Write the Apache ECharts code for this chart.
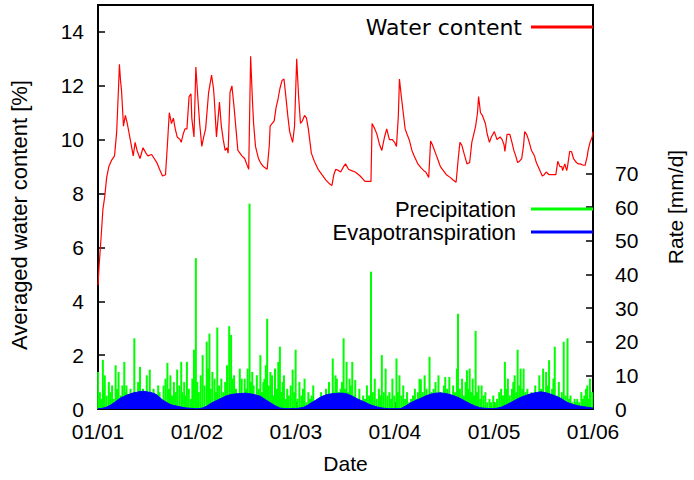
<!DOCTYPE html>
<html><head><meta charset="utf-8">
<script src="https://cdn.jsdelivr.net/npm/echarts@6/dist/echarts.min.js"></script>
<style>html,body{margin:0;padding:0;background:#fff}#c{width:694px;height:480px}</style>
</head><body><div id="c"></div>
<script>
// ---- data (day = days since 2001-01-01) ----
const startDate = '2001-01-01';
const endDate = '2006-01-01';
const xTickDates = ['2001-01-01','2002-01-01','2003-01-01','2004-01-01','2005-01-01','2006-01-01'];
const leftTicks = [0,2,4,6,8,10,12,14];
const rightTicks = [0,10,20,30,40,50,60,70];

const waterContent = [[0,4.6],[4,5.3],[11,6.3],[18,7.4],[25,7.9],[32,8.6],[40,9.0],[51,9.25],[61,9.4],[69,10.3],[76,12.0],[79,12.8],[83,12.2],[87,11.8],[94,10.5],[101,10.9],[108,10.6],[119,10.0],[130,9.4],[137,9.9],[144,9.6],[155,9.3],[166,9.7],[177,9.5],[184,9.4],[198,9.45],[217,9.15],[227,8.9],[238,8.65],[249,8.7],[256,9.8],[263,11.0],[271,10.6],[278,10.8],[285,10.4],[292,10.1],[303,10.0],[307,9.9],[314,10.2],[321,10.4],[328,10.4],[336,11.6],[343,11.7],[346,10.8],[354,10.1],[361,12.7],[368,11.6],[375,10.6],[383,9.75],[390,10.1],[397,10.4],[408,11.75],[419,12.4],[426,11.9],[429,11.5],[437,10.1],[444,10.9],[448,11.4],[455,10.5],[462,10.0],[469,9.6],[476,9.7],[480,9.5],[487,11.75],[494,12.0],[502,11.2],[509,10.4],[516,9.6],[531,9.4],[541,9.3],[552,9.0],[556,8.9],[563,13.1],[570,11.4],[574,10.6],[581,9.75],[592,9.3],[599,9.15],[610,9.0],[624,8.9],[632,9.8],[635,10.5],[642,10.6],[650,10.7],[657,11.2],[664,11.5],[671,11.9],[679,12.2],[686,12.25],[693,11.6],[700,10.9],[707,10.3],[715,10.0],[718,9.9],[725,10.5],[733,13.0],[740,11.6],[747,10.6],[754,10.7],[762,10.9],[769,10.8],[776,10.4],[787,9.5],[798,9.2],[812,8.9],[826,8.7],[841,8.5],[855,8.35],[863,8.3],[870,8.7],[877,8.9],[888,8.85],[895,8.8],[906,9.0],[913,9.1],[924,8.9],[935,8.85],[949,8.8],[967,8.65],[985,8.45],[1000,8.45],[1007,8.45],[1011,10.6],[1021,10.4],[1029,10.2],[1039,9.8],[1047,9.6],[1057,10.1],[1065,10.4],[1075,10.0],[1086,10.0],[1094,9.9],[1101,9.75],[1108,10.9],[1112,12.25],[1119,11.6],[1126,11.0],[1133,10.4],[1140,10.2],[1148,10.0],[1158,9.6],[1166,9.4],[1180,9.1],[1191,8.96],[1202,8.85],[1209,8.8],[1220,8.6],[1227,9.95],[1234,9.8],[1245,9.5],[1256,9.2],[1263,9.0],[1274,8.85],[1285,8.7],[1299,8.6],[1310,8.5],[1321,8.42],[1328,9.2],[1335,9.9],[1342,9.8],[1350,9.5],[1361,9.1],[1371,9.15],[1379,9.9],[1386,10.2],[1393,10.5],[1400,11.0],[1404,11.6],[1411,11.0],[1418,10.9],[1429,10.6],[1436,10.2],[1444,9.9],[1451,10.1],[1462,10.3],[1472,10.0],[1483,10.1],[1491,10.0],[1498,9.8],[1501,9.56],[1509,10.2],[1519,10.2],[1527,9.9],[1534,9.6],[1541,9.4],[1548,9.15],[1555,9.2],[1563,9.3],[1570,9.8],[1574,10.3],[1581,10.2],[1588,10.0],[1599,9.6],[1610,9.4],[1617,9.15],[1628,8.9],[1639,8.65],[1646,8.7],[1653,8.8],[1664,8.7],[1678,8.7],[1689,8.7],[1696,9.2],[1704,9.0],[1711,9.0],[1714,8.85],[1722,9.1],[1729,8.85],[1732,9.0],[1740,9.57],[1747,9.55],[1754,9.3],[1765,9.15],[1772,9.1],[1779,9.1],[1790,9.05],[1797,9.05],[1805,9.4],[1808,9.6],[1815,9.9],[1823,10.1],[1826,10.3]];

const evapotranspiration = [[0,0.1],[15,0.2],[30,0.5],[47,1.2],[60,1.9],[75,2.8],[83,3.3],[95,3.7],[108,4.2],[120,4.5],[130,4.8],[145,5.0],[155,5.2],[166,5.3],[180,5.1],[195,4.9],[207,4.6],[217,4.2],[228,3.4],[238,2.7],[250,2.1],[263,1.5],[276,1.1],[289,0.9],[305,0.6],[325,0.3],[345,0.2],[360,0.1],
[372,0.1],[385,0.3],[400,0.8],[419,1.8],[437,2.5],[455,3.2],[473,3.9],[491,4.3],[509,4.5],[527,4.6],[545,4.7],[563,4.5],[581,4.2],[599,3.8],[617,2.8],[635,1.9],[653,1.0],[671,0.3],[690,0.1],[707,0.1],[720,0.2],
[730,0.1],[745,0.3],[758,0.5],[775,1.2],[790,2.0],[805,2.7],[820,3.5],[841,4.2],[860,4.5],[875,4.6],[888,4.7],[900,4.7],[913,4.6],[925,4.3],[938,3.8],[952,3.2],[968,2.6],[985,2.0],[1000,1.4],[1010,1.1],[1021,0.8],[1040,0.4],[1057,0.2],[1075,0.1],
[1095,0.1],[1110,0.1],[1119,0.2],[1135,0.9],[1155,1.9],[1173,2.6],[1191,3.2],[1209,3.9],[1227,4.4],[1245,4.7],[1263,4.8],[1281,4.6],[1299,4.3],[1317,3.8],[1335,3.2],[1353,2.4],[1371,1.6],[1390,0.9],[1408,0.4],[1430,0.2],[1454,0.1],
[1470,0.2],[1490,0.6],[1508,1.3],[1527,2.1],[1545,2.9],[1563,3.6],[1581,4.1],[1599,4.6],[1617,4.9],[1635,5.1],[1653,4.8],[1671,4.4],[1689,3.8],[1707,3.2],[1720,2.5],[1732,1.9],[1750,1.4],[1768,1.0],[1790,0.7],[1815,0.4],[1826,0.3]];

const precipitation = [[0,11],[7,5],[12,3],[18,14.6],[22,6],[25,10],[32,4],[40,8],[46,5],[52,7],[58,3],[65,13],[70,6],[76,11],[84,4],[90,7],[97,14],[101,5],[105,7],[112,3],[120,6],[127,4],[134,21],[140,5],[148,8],[155,12.5],[160,4],[166,6],[173,3],[180,10],[186,5],[191,11.7],[198,4],[205,6],[211,2],[217,4],[222,7],[227,5],[234,3],[242,7],[249,9],[256,13.7],[262,6],[267,10],[273,4],[280,8],[286,5],[292,11.7],[300,7],[307,14],[312,5],[318,8],[323,4],[328,14],[335,6],[343,3],[348,9],[354,17.6],[361,44.8],
[366,8],[372,5],[379,10],[386,16],[393,7],[401,20],[406,12],[411,22.4],[416,6],[422,11],[430,9],[435,5],[440,24.2],[447,7],[455,9],[462,5],[469,8],[476,13],[484,24.6],[491,22],[496,9],[502,10],[509,6],[516,4],[523,12],[530,9],[535,4],[541,9],[547,6],[552,12],[559,61],[564,8],[569,11],[574,7],[581,4],[586,10],[593,6],[599,16],[605,5],[610,8],[614,9],[619,13],[624,26.8],[630,7],[636,11],[642,10],[648,4],[653,12],[660,6],[665,14],[671,18.5],[676,5],[681,8],[686,10],[693,3],[698,6],[704,4],[711,7],[718,11.7],[724,5],[729,17.6],
[736,3],[743,8],[750,4],[756,6],[762,9],[769,2],[776,5],[782,3],[788,4],[794,7],[801,2],[808,3],[815,1.5],[823,5],[830,2],[835,4],[841,6],[846,3],[852,8],[858,4],[866,15],[872,5],[876,10],[881,9],[888,5],[895,6],[900,8],[906,21],[911,6],[917,14],[922,5],[928,9],[933,7],[938,14],[944,4],[949,8.6],[956,3],[964,6],[970,2],[978,4],[985,3],[992,7],[1000,4],[1007,40.8],[1014,5],[1021,9],[1028,3],[1036,6],[1041,4],[1047,16],[1054,5],[1061,12],[1068,4],[1075,5],[1081,3],[1086,9],[1093,4],
[1101,15],[1106,5],[1112,10],[1119,4],[1126,7],[1133,3],[1140,5],[1148,2],[1155,3],[1162,4],[1169,6],[1174,3],[1180,5],[1186,9],[1191,8.8],[1198,5],[1205,10],[1212,6],[1218,4],[1223,15.5],[1230,5],[1238,6],[1245,8],[1250,3],[1256,10],[1263,5],[1270,4],[1276,7],[1281,9.5],[1288,6],[1296,9.5],[1303,4],[1310,7],[1317,5],[1324,12],[1328,28.3],[1335,6],[1343,9],[1350,4],[1356,8],[1361,11.5],[1366,6],[1371,12],[1376,5],[1382,9],[1387,4],[1393,23.2],[1398,5],[1404,7],[1410,3],[1415,7],[1422,4],[1429,5],[1436,2],[1444,3],[1450,2],[1458,4],
[1465,2],[1472,3],[1480,5],[1487,6],[1494,4],[1501,14],[1506,6],[1512,9],[1519,4],[1527,6],[1532,8],[1537,10],[1543,5],[1548,17.6],[1554,7],[1559,12],[1565,6],[1570,12],[1577,5],[1584,6],[1591,3],[1599,5],[1606,4],[1613,7],[1620,3],[1628,10],[1635,6],[1642,12],[1648,5],[1653,11],[1659,7],[1664,14.5],[1670,4],[1675,6],[1680,9],[1685,18.5],[1692,4],[1700,8],[1705,3],[1711,5],[1718,20],[1725,4],[1732,21],[1738,3],[1743,4],[1750,2],[1758,3],[1763,2],[1768,3],[1775,2],[1783,5],[1789,3],[1794,4],[1800,6],[1805,7],[1810,3],[1815,9],[1823,5]];

// ---- build ----
const DAY = 86400000;
const t0 = Date.parse(startDate + 'T00:00:00Z');
const tEnd = Date.parse(endDate + 'T00:00:00Z');
const toT = p => [t0 + p[0] * DAY, p[1]];
const xTicks = xTickDates.map(d => Date.parse(d + 'T00:00:00Z'));
const pad = n => (n < 10 ? '0' : '') + n;
const FONT = 'Liberation Sans, Arial, sans-serif';

const chart = echarts.init(document.getElementById('c'), null, {renderer: 'svg'});
chart.setOption({
  animation: false,
  backgroundColor: '#ffffff',
  grid: {left: 96, right: 91, top: 5, bottom: 71, show: true, borderColor: '#000', borderWidth: 2, backgroundColor: 'transparent'},
  legend: [
    {data: ['Water content'], right: 101, top: 15, orient: 'vertical', align: 'right', padding: 0,
     icon: 'rect', itemWidth: 62, itemHeight: 3,
     textStyle: {fontFamily: 'DejaVu Sans', fontSize: 22, lineHeight: 24, color: '#000', padding: [0, 4, 0, 0]}},
    {data: ['Precipitation', 'Evapotranspiration'], right: 101, top: 198, orient: 'vertical', align: 'right', padding: 0,
     itemGap: 1, icon: 'rect', itemWidth: 62, itemHeight: 3,
     textStyle: {fontFamily: FONT, fontSize: 22, lineHeight: 22, color: '#000', padding: [0, 10, 0, 0]}}
  ],
  xAxis: {
    type: 'value', min: t0, max: tEnd,
    name: 'Date', nameLocation: 'middle', nameGap: 44,
    nameTextStyle: {fontFamily: FONT, fontSize: 21, color: '#000'},
    axisLine: {show: true, lineStyle: {color: '#000', width: 2}},
    axisTick: {show: true, inside: true, length: 7, lineStyle: {color: '#000', width: 1.5}, customValues: xTicks},
    axisLabel: {customValues: xTicks, margin: 12, fontFamily: FONT, fontSize: 21, color: '#000',
      formatter: v => { const d = new Date(v); return pad(d.getUTCMonth() + 1) + '/' + pad(d.getUTCFullYear() % 100); }},
    splitLine: {show: false}
  },
  yAxis: [
    {type: 'value', min: 0, max: 15, position: 'left',
     name: 'Averaged water content [%]', nameLocation: 'middle', nameGap: 68,
     nameTextStyle: {fontFamily: FONT, fontSize: 22, color: '#000', padding: [0, 16, 0, 0]},
     axisLine: {show: true, lineStyle: {color: '#000', width: 2}},
     axisTick: {show: true, inside: true, length: 7, lineStyle: {color: '#000', width: 1.5}, customValues: leftTicks},
     axisLabel: {customValues: leftTicks, margin: 14, fontFamily: FONT, fontSize: 21, color: '#000'},
     splitLine: {show: false}},
    {type: 'value', min: 0, max: 120, position: 'right',
     name: 'Rate [mm/d]', nameLocation: 'middle', nameGap: 72, nameRotate: 90,
     nameTextStyle: {fontFamily: FONT, fontSize: 21, color: '#000'},
     axisLine: {show: true, lineStyle: {color: '#000', width: 2}},
     axisTick: {show: true, inside: true, length: 7, lineStyle: {color: '#000', width: 1.5}, customValues: rightTicks},
     axisLabel: {customValues: rightTicks, margin: 22, fontFamily: FONT, fontSize: 21, color: '#000'},
     splitLine: {show: false}}
  ],
  series: [
    {name: 'Precipitation', type: 'bar', yAxisIndex: 1, barWidth: 2, z: 2,
     itemStyle: {color: '#00ff00'}, data: precipitation.map(toT)},
    {name: 'Evapotranspiration', type: 'line', yAxisIndex: 1, showSymbol: false, symbol: 'none', z: 3,
     itemStyle: {color: '#0000ff'}, lineStyle: {color: '#0000ff', width: 1},
     areaStyle: {color: '#0000ff', opacity: 1}, data: evapotranspiration.map(toT)},
    {name: 'Water content', type: 'line', yAxisIndex: 0, showSymbol: false, symbol: 'none', z: 4,
     itemStyle: {color: '#ff0000'}, lineStyle: {color: '#ff0000', width: 1.2},
     data: waterContent.map(toT)}
  ]
});
</script></body></html>
